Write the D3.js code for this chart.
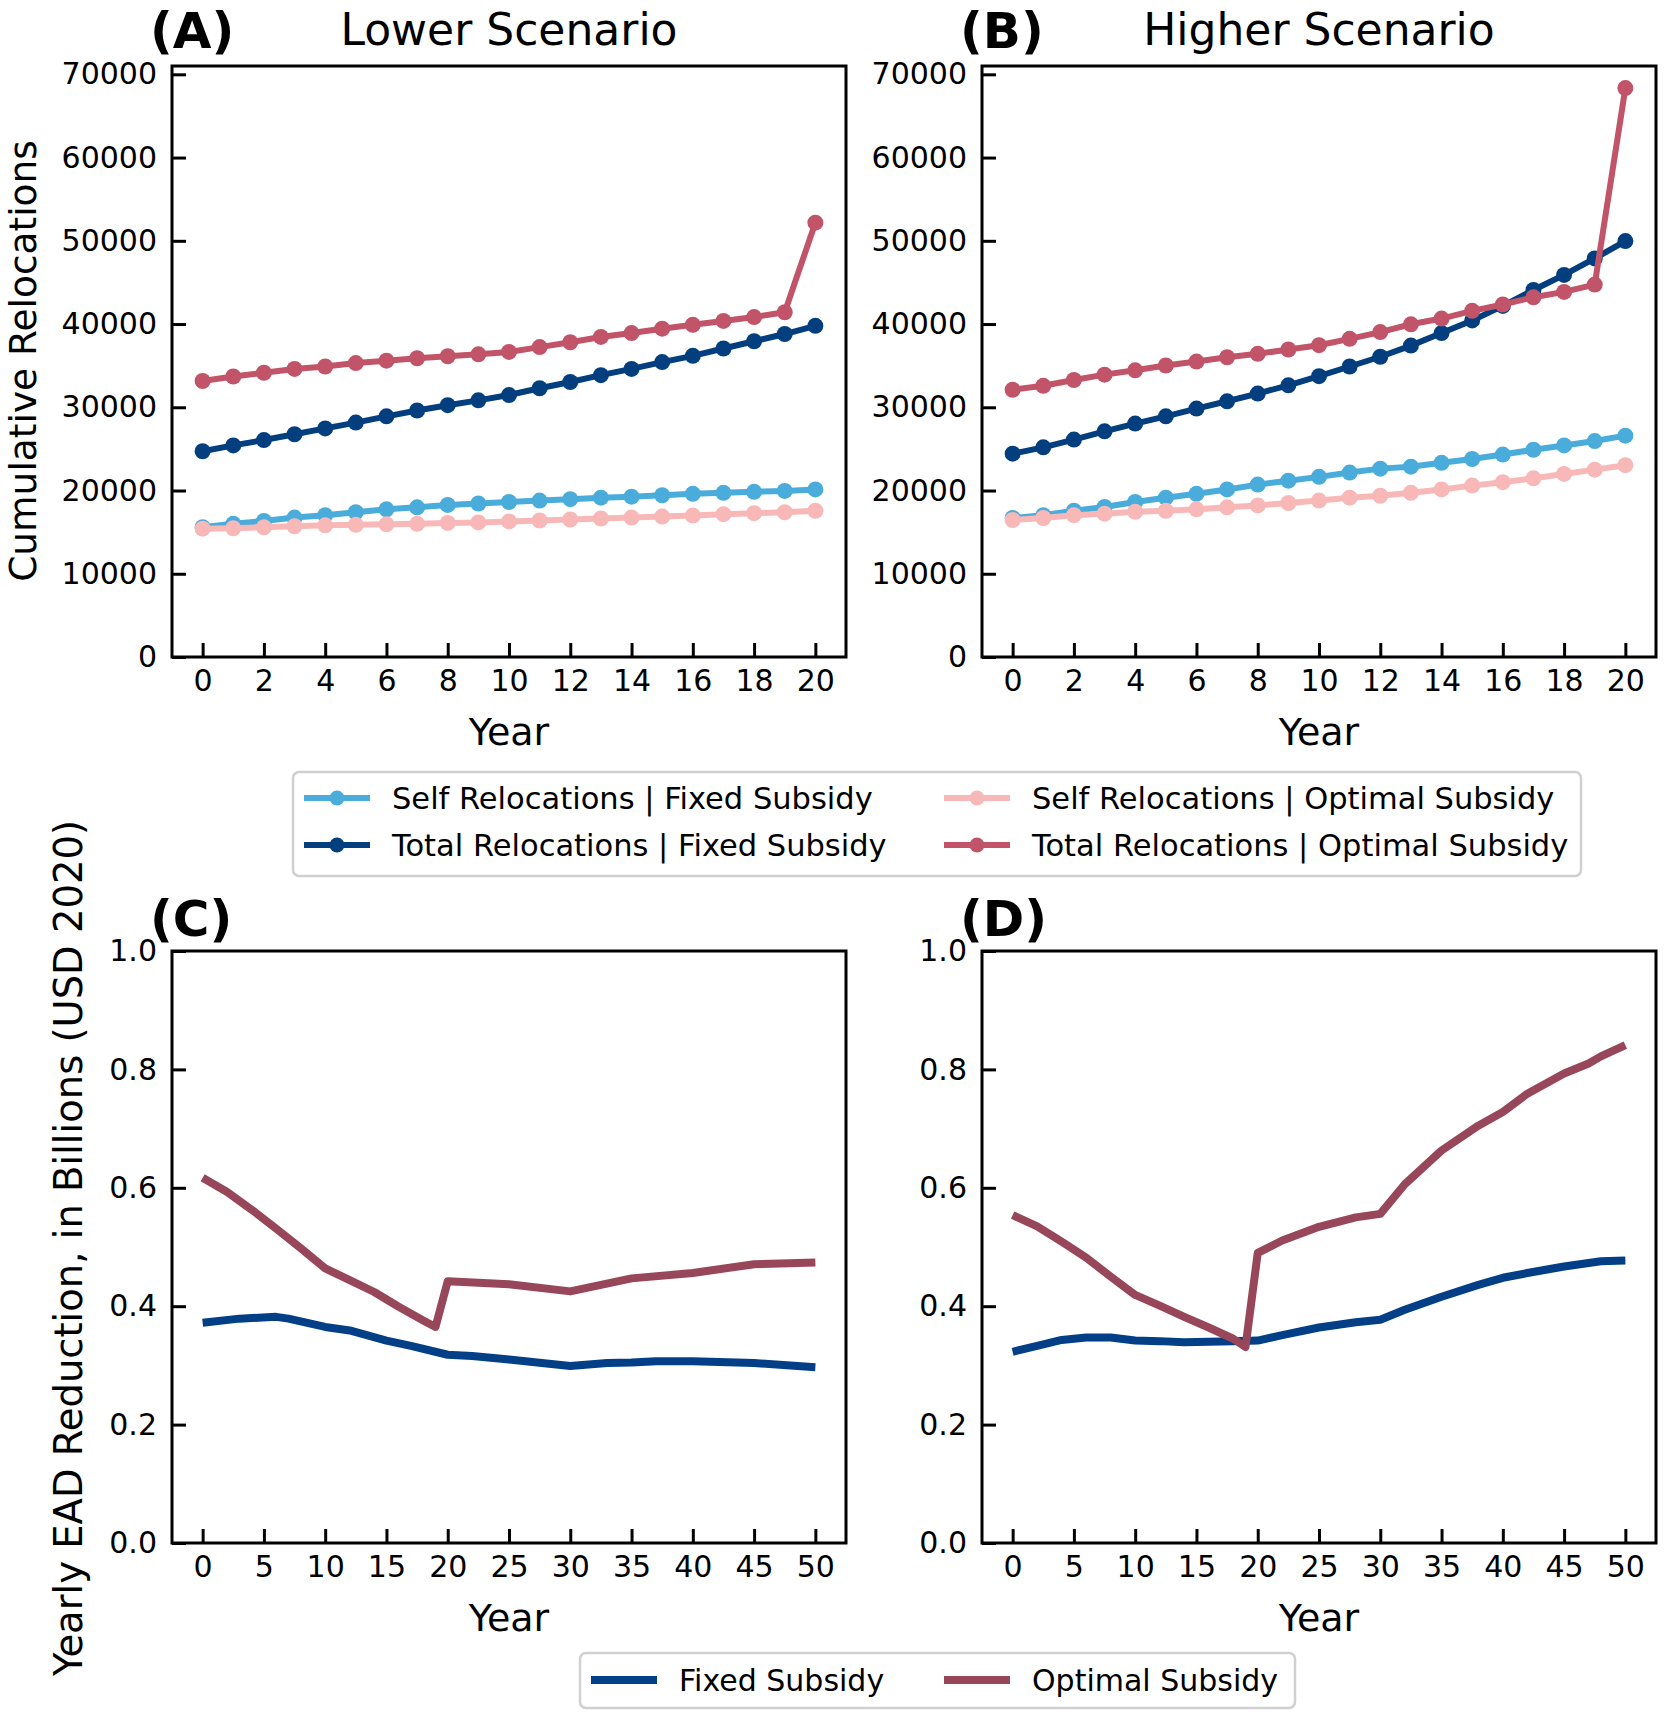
<!DOCTYPE html>
<html>
<head>
<meta charset="utf-8">
<script src="https://cdn.jsdelivr.net/npm/d3@7"></script>
<style>
  body { margin: 0; background: #fff; }
  text { font-family: "DejaVu Sans", sans-serif; fill: #000; }
</style>
</head>
<body>
<svg id="fig" width="1665" height="1715"></svg>
<script>
// cumulative relocations, years 0..20
const years = [0,1,2,3,4,5,6,7,8,9,10,11,12,13,14,15,16,17,18,19,20];

const lowSelfFixed   = [15590,16000,16350,16750,17040,17390,17740,17980,18270,18440,18620,18790,18960,19140,19260,19430,19600,19720,19840,19950,20130];
const lowTotalFixed  = [24720,25420,26060,26760,27460,28160,28910,29610,30250,30830,31470,32290,33040,33860,34610,35430,36180,37060,37930,38800,39790];
const lowSelfOpt     = [15420,15470,15590,15710,15820,15880,15940,16000,16110,16170,16290,16400,16520,16640,16750,16870,16990,17160,17280,17390,17570];
const lowTotalOpt    = [33160,33700,34150,34610,34900,35310,35600,35890,36130,36360,36650,37230,37810,38450,38920,39440,39910,40370,40840,41420,52180];

const highSelfFixed  = [16700,17040,17570,18030,18620,19140,19600,20130,20710,21180,21640,22160,22630,22860,23330,23790,24320,24900,25420,25940,26590];
const highTotalFixed = [24430,25190,26120,27110,28040,28910,29840,30720,31650,32640,33740,34900,36070,37410,38920,40430,42180,44090,45900,47880,49970];
const highSelfOpt    = [16460,16700,17040,17220,17450,17570,17740,17980,18210,18500,18790,19140,19370,19720,20130,20590,21000,21470,21990,22510,23040];
const highTotalOpt   = [32110,32580,33280,33920,34440,35020,35490,36010,36420,36940,37460,38220,39030,39970,40660,41590,42350,43220,43860,44740,68350];

// yearly EAD reduction (billions), years 0..50
const lowFixedYears = [0,3,6,7,10,12,15,17,20,22,25,30,33,35,37,40,45,50];
const lowFixedEAD   = [0.372,0.379,0.382,0.379,0.365,0.359,0.342,0.333,0.318,0.316,0.310,0.299,0.304,0.305,0.307,0.307,0.304,0.297];
const lowOptYears   = [0,2,4,6,8,10,12,14,16,18,19,20,25,30,35,40,45,50];
const lowOptEAD     = [0.617,0.593,0.563,0.531,0.498,0.464,0.444,0.424,0.399,0.376,0.365,0.442,0.437,0.425,0.447,0.456,0.471,0.474];

const highFixedYears = [0,2,4,6,8,10,12,14,16,18,20,22,25,28,30,32,35,38,40,42,45,48,50];
const highFixedEAD   = [0.323,0.333,0.343,0.347,0.347,0.342,0.341,0.339,0.340,0.341,0.342,0.351,0.364,0.373,0.377,0.394,0.416,0.436,0.448,0.456,0.467,0.476,0.477];
const highOptYears   = [0,2,4,6,8,10,12,14,16,18,19,20,22,25,28,30,32,35,38,40,42,45,47,48,50];
const highOptEAD     = [0.554,0.535,0.509,0.482,0.450,0.419,0.401,0.382,0.364,0.345,0.331,0.490,0.511,0.534,0.550,0.556,0.606,0.663,0.705,0.728,0.759,0.793,0.810,0.822,0.841];

const relocTicksX = [0,2,4,6,8,10,12,14,16,18,20];
const relocTicksY = [0,10000,20000,30000,40000,50000,60000,70000];
const eadTicksX = [0,5,10,15,20,25,30,35,40,45,50];
const eadTicksY = [0,0.2,0.4,0.6,0.8,1.0];

const relocNames = ["Self Relocations | Fixed Subsidy", "Total Relocations | Fixed Subsidy",
                    "Self Relocations | Optimal Subsidy", "Total Relocations | Optimal Subsidy"];
const relocColors = ["#49acdb", "#033f7e", "#f8b8b8", "#c15469"];
const eadNames = ["Fixed Subsidy", "Optimal Subsidy"];
const eadColors = ["#033f86", "#984659"];

const svg = d3.select("#fig");

function panel(box, xDom, yDom, xTicks, yTicks, yFmt) {
    const g = svg.append("g").attr("transform", `translate(${box.x},${box.y})`);
    const x = d3.scaleLinear().domain(xDom).range([0, box.w]);
    const y = d3.scaleLinear().domain(yDom).range([box.h, 0]);

    const xa = g.append("g")
        .attr("transform", `translate(0,${box.h})`)
        .call(d3.axisBottom(x).tickValues(xTicks).tickSizeInner(-14).tickSizeOuter(0).tickPadding(13));
    const ya = g.append("g")
        .call(d3.axisLeft(y).tickValues(yTicks).tickFormat(yFmt).tickSizeInner(-14).tickSizeOuter(0).tickPadding(15));
    [xa, ya].forEach(a => {
        a.select(".domain").remove();
        a.selectAll("line").attr("stroke", "#000").attr("stroke-width", 3);
        a.selectAll("text").attr("font-size", 30).attr("font-family", "DejaVu Sans");
    });
    g.append("rect")
        .attr("width", box.w).attr("height", box.h)
        .attr("fill", "none").attr("stroke", "#000").attr("stroke-width", 3);
    g.append("text")
        .attr("x", box.w / 2).attr("y", box.h + 88)
        .attr("text-anchor", "middle").attr("font-size", 38)
        .text("Year");
    return {g, x, y};
}

function relocPanel(box, series, letter, title) {
    const p = panel(box, [-1, 21], [0, 71000], relocTicksX, relocTicksY, d3.format("d"));
    const line = d3.line().x((d, i) => p.x(years[i])).y(d => p.y(d));
    series.forEach((vals, k) => {
        p.g.append("path").datum(vals)
            .attr("d", line).attr("fill", "none")
            .attr("stroke", relocColors[k]).attr("stroke-width", 6);
        p.g.selectAll(null).data(vals).enter().append("circle")
            .attr("cx", (d, i) => p.x(years[i])).attr("cy", d => p.y(d))
            .attr("r", 8).attr("fill", relocColors[k]);
    });
    svg.append("text").attr("x", box.x - 22).attr("y", box.y - 18)
        .attr("font-size", 50).attr("font-weight", "bold").text(letter);
    svg.append("text").attr("x", box.x + box.w / 2).attr("y", box.y - 21)
        .attr("text-anchor", "middle").attr("font-size", 44).text(title);
}

function eadPanel(box, fixedX, fixedY, optX, optY, letter) {
    const p = panel(box, [-2.5, 52.5], [0, 1], eadTicksX, eadTicksY, d3.format(".1f"));
    [[fixedX, fixedY], [optX, optY]].forEach(([xs, ys], k) => {
        const line = d3.line().x((d, i) => p.x(xs[i])).y(d => p.y(d));
        p.g.append("path").datum(ys)
            .attr("d", line).attr("fill", "none")
            .attr("stroke", eadColors[k]).attr("stroke-width", 8)
            .attr("stroke-linejoin", "round");
    });
    svg.append("text").attr("x", box.x - 22).attr("y", box.y - 15)
        .attr("font-size", 50).attr("font-weight", "bold").text(letter);
}

const boxA = {x: 172, y: 66, w: 674, h: 591};
const boxB = {x: 982, y: 66, w: 674, h: 591};
const boxC = {x: 172, y: 951, w: 674, h: 592};
const boxD = {x: 982, y: 951, w: 674, h: 592};

relocPanel(boxA, [lowSelfFixed, lowTotalFixed, lowSelfOpt, lowTotalOpt], "(A)", "Lower Scenario");
relocPanel(boxB, [highSelfFixed, highTotalFixed, highSelfOpt, highTotalOpt], "(B)", "Higher Scenario");
eadPanel(boxC, lowFixedYears, lowFixedEAD, lowOptYears, lowOptEAD, "(C)");
eadPanel(boxD, highFixedYears, highFixedEAD, highOptYears, highOptEAD, "(D)");

// y labels
svg.append("text").attr("transform", "translate(36,361) rotate(-90)")
    .attr("text-anchor", "middle").attr("font-size", 37.5).text("Cumulative Relocations");
svg.append("text").attr("transform", "translate(82,1248) rotate(-90)")
    .attr("text-anchor", "middle").attr("font-size", 38.5)
    .text("Yearly EAD Reduction, in Billions (USD 2020)");

// legend for relocations
const leg1 = svg.append("g");
leg1.append("rect").attr("x", 293).attr("y", 772).attr("width", 1288).attr("height", 104)
    .attr("rx", 6).attr("fill", "#fff").attr("stroke", "#d0d0d0").attr("stroke-width", 2.5);
const legPos1 = [[304, 798], [304, 845], [944, 798], [944, 845]];
relocNames.forEach((name, k) => {
    const [lx, ly] = legPos1[k];
    leg1.append("line").attr("x1", lx).attr("x2", lx + 66).attr("y1", ly).attr("y2", ly)
        .attr("stroke", relocColors[k]).attr("stroke-width", 6);
    leg1.append("circle").attr("cx", lx + 33).attr("cy", ly).attr("r", 7.5).attr("fill", relocColors[k]);
    leg1.append("text").attr("x", lx + 88).attr("y", ly).attr("dy", "0.36em")
        .attr("font-size", 30.5).text(name);
});

// legend for EAD
const leg2 = svg.append("g");
leg2.append("rect").attr("x", 580).attr("y", 1653).attr("width", 715).attr("height", 55)
    .attr("rx", 6).attr("fill", "#fff").attr("stroke", "#d0d0d0").attr("stroke-width", 2.5);
const legPos2 = [[591, 1680], [944, 1680]];
eadNames.forEach((name, k) => {
    const [lx, ly] = legPos2[k];
    leg2.append("line").attr("x1", lx).attr("x2", lx + 66).attr("y1", ly).attr("y2", ly)
        .attr("stroke", eadColors[k]).attr("stroke-width", 8);
    leg2.append("text").attr("x", lx + 88).attr("y", ly).attr("dy", "0.36em")
        .attr("font-size", 30).text(name);
});
</script>
</body>
</html>
